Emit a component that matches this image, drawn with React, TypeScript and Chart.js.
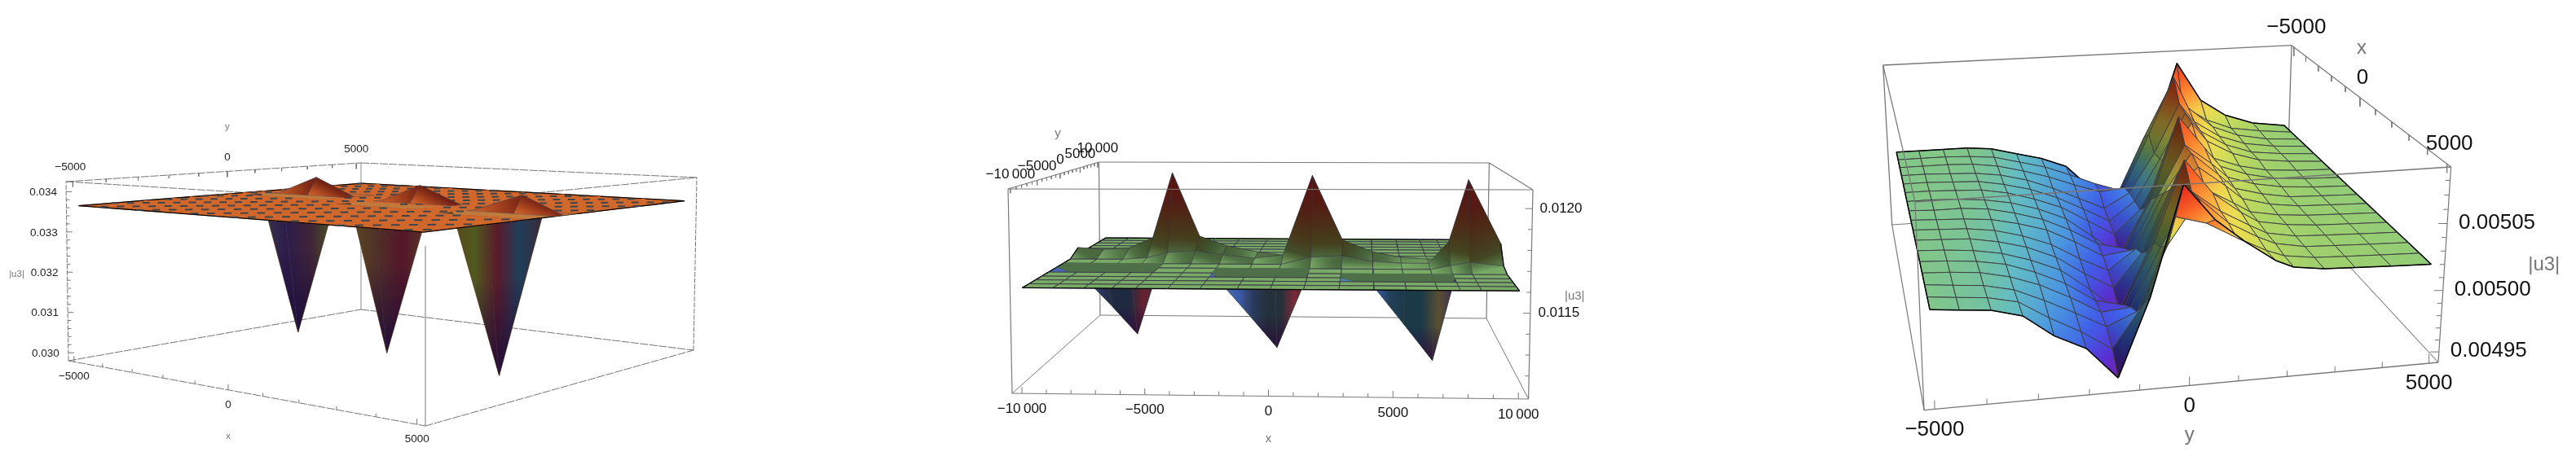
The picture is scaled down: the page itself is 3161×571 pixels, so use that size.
import { useEffect, useRef } from "react";
import { Chart, registerables } from "chart.js";

Chart.register(...registerables);

const WIDTH = 3161;
const HEIGHT = 571;

// ---- left plot: |u3| on a flat sheet with three dips and three bumps
const p1Xs = [-5000, -4350, -3100, -1850, -650, 450, 1650, 2700, 3950, 5000];
const p1Ys = [-5000, -4000, -3000, -2100, -1500, -998, -489, -177, 354, 720, 1040, 1800, 2700, 3800, 5000];
const p1Plane = 0.03365;
const p1Dips = [[2, 8, 0.03], [5, 6, 0.03], [8, 5, 0.02998]];
const p1DipSpans = [[1, 3], [4, 6], [7, 9]];
const p1Bumps = [[2, 10, 0.03412], [5, 9, 0.03408], [8, 7, 0.03406]];
const p1XTicks = [-5000, -4000, -3000, -2000, -1000, 0, 1000, 2000, 3000, 4000, 5000];
const p1ZTicks = [0.03, 0.0302, 0.0304, 0.0306, 0.0308, 0.031, 0.0312, 0.0314, 0.0316, 0.0318, 0.032, 0.0322, 0.0324, 0.0326, 0.0328, 0.033, 0.0332, 0.0334, 0.0336, 0.0338, 0.034];
const p1XLabels = ["\u22125000", "0", "5000"];
const p1ZLabels = ["0.030", "0.031", "0.032", "0.033", "0.034"];

// ---- middle plot
const p2Xs = [-10000, -8750, -7500, -6360, -5400, -4100, -2800, -1300, 30, 1380, 2800, 4200, 5500, 6750, 7650, 8500, 10000];
const p2Ys = [-10000, -8750, -7500, -6250, -4850, -3120, -1520, 145, 2080, 3400, 4800, 6100, 7400, 8700, 10000];
const p2Plane = 0.0116;
const p2Dips = [[3, 5, 0.01124], [8, 4, 0.01121], [13, 3, 0.01118]];
const p2DipSpans = [[0, 4], [6, 9], [10, 14]];
const p2DipFlanks = [
  [1, 5, 0.011546], [2, 5, 0.01139], [7, 4, 0.011395],
  [12, 3, 0.011367], [11, 3, 0.01156],
];
const p2Raised = [
  [0, 8, 0.01164], [1, 8, 0.01163], [2, 8, 0.01164], [3, 8, 0.0117], [4, 8, 0.01208],
  [5, 8, 0.01171], [6, 8, 0.011655], [7, 8, 0.01162], [4, 7, 0.01164], [4, 9, 0.0117],
  [3, 7, 0.01161], [5, 7, 0.01165], [6, 7, 0.01163], [7, 7, 0.01161], [8, 7, 0.01163], [9, 7, 0.01208], [10, 7, 0.011715],
  [11, 7, 0.01165], [12, 7, 0.01162], [13, 7, 0.01161], [14, 7, 0.01161], [9, 6, 0.01164],
  [10, 6, 0.01165], [11, 6, 0.01162], [12, 6, 0.01161], [9, 8, 0.0117], [13, 6, 0.01161], [14, 6, 0.01173], [15, 6, 0.01207], [16, 6, 0.01172],
  [14, 5, 0.01162], [15, 5, 0.01164], [16, 5, 0.01162], [15, 7, 0.0117],
];
const p2XTicks = [-10000, -9000, -8000, -7000, -6000, -5000, -4000, -3000, -2000, -1000, 0, 1000, 2000, 3000, 4000, 5000, 6000, 7000, 8000, 9000, 10000];
const p2ZTicks = [0.0112, 0.0113, 0.0114, 0.0115, 0.0116, 0.0117, 0.0118, 0.0119, 0.012];
const p2XLabels = ["\u221210\u2009000", "\u22125000", "0", "5000", "10\u2009000"];
const p2ZLabels = ["0.0115", "0.0120"];

// ---- right plot, heights in units of 1e-6, one row per x from back to front
const p3Ys = [-5000, -4450, -3850, -3250, -2650, -2020, -1390, -760, -130, 500, 1120, 1740, 2120, 2750, 3400, 4150, 5000];
const p3Xs = [-5000, -4375, -3750, -3125, -2500, -1875, -1250, -625, 0, 625, 1250, 1875, 2500, 3125, 3750, 4375, 5000];
const p3Heights = [
  [5014, 5014, 5014, 5014, 5012, 5006, 5000, 4991, 4968, 4948, 4985, 5040, 5080, 5046, 5031, 5022, 5018],
  [5014, 5014, 5014, 5013, 5011, 5005, 4999, 4990, 4980, 4972, 5020, 5062, 5048, 5034, 5025, 5021, 5018],
  [5014, 5014, 5014, 5013, 5010, 5004, 4997, 4988, 4980, 4982, 5030, 5079, 5052, 5034, 5025, 5020, 5018],
  [5014, 5014, 5013, 5012, 5009, 5003, 4994, 4983, 4972, 4985, 5020, 5062, 5046, 5032, 5024, 5020, 5018],
  [5014, 5014, 5013, 5012, 5008, 5002, 4993, 4981, 4968, 4985, 5022, 5060, 5044, 5031, 5023, 5020, 5018],
  [5014, 5014, 5013, 5012, 5008, 5001, 4992, 4978, 4964, 4985, 5025, 5058, 5042, 5030, 5023, 5020, 5018],
  [5014, 5014, 5013, 5011, 5007, 5000, 4990, 4972, 4953, 4995, 5056, 5048, 5034, 5026, 5021, 5019, 5018],
  [5014, 5013, 5013, 5011, 5006, 4999, 4988, 4974, 4968, 5010, 5076, 5050, 5034, 5026, 5021, 5019, 5018],
  [5014, 5013, 5012, 5010, 5005, 4998, 4986, 4972, 4975, 5020, 5060, 5044, 5032, 5025, 5021, 5019, 5018],
  [5014, 5013, 5012, 5009, 5003, 4994, 4980, 4968, 4985, 5030, 5060, 5042, 5030, 5024, 5020, 5019, 5018],
  [5014, 5013, 5012, 5008, 5002, 4992, 4976, 4962, 4990, 5040, 5056, 5040, 5029, 5023, 5020, 5019, 5018],
  [5014, 5013, 5011, 5007, 5000, 4990, 4972, 4951, 5000, 5058, 5046, 5034, 5026, 5022, 5020, 5019, 5018],
  [5014, 5013, 5011, 5007, 4999, 4988, 4972, 4966, 5015, 5076, 5050, 5034, 5026, 5022, 5020, 5019, 5018],
  [5014, 5013, 5011, 5006, 4998, 4986, 4972, 4974, 5020, 5060, 5044, 5032, 5025, 5021, 5020, 5019, 5018],
  [5014, 5012, 5010, 5005, 4995, 4983, 4970, 4980, 5030, 5062, 5043, 5031, 5025, 5021, 5020, 5019, 5018],
  [5014, 5012, 5010, 5005, 4991, 4978, 4962, 4995, 5058, 5052, 5040, 5029, 5024, 5021, 5020, 5019, 5018],
  [5014, 5012, 5010, 5004, 4987, 4975, 4949, 5010, 5087, 5062, 5045, 5030, 5024, 5021, 5020, 5019, 5018],
];
const p3AxisTicks = [-5000, -4000, -3000, -2000, -1000, 0, 1000, 2000, 3000, 4000, 5000];
const p3ZTicks = [4950, 4960, 4970, 4980, 4990, 5000, 5010, 5020, 5030, 5040, 5050, 5060, 5070, 5080];
const p3AxisLabels = ["\u22125000", "0", "5000"];
const p3ZLabels = ["0.00495", "0.00500", "0.00505"];

// colours by height
const p1Ramp: [number, string][] = [[0.03365, "#d2672c"], [0.0338, "#b84e22"], [0.034, "#842c16"], [0.0342, "#571410"]];
const p2Ramp: [number, string][] = [[0.0116, "#79ab67"], [0.01163, "#4f7044"], [0.01167, "#3f5530"], [0.0117, "#44431f"], [0.0118, "#4a3218"], [0.0119, "#521f14"], [0.01208, "#5e1010"]];
const p3Ramp: [number, string][] = [
  [4945, "#7d1fa0"], [4960, "#5a2ed0"], [4975, "#3f5fe8"], [4990, "#4a96e0"], [5005, "#62bcc4"], [5014, "#82c688"],
  [5020, "#9ccf6e"], [5030, "#c8dc5a"], [5040, "#f0dc50"], [5050, "#fcb040"], [5065, "#fb6b28"], [5085, "#e8281c"],
];
const p1DipColours = [
  ["#3a3a48", "#2c1c4c", "#402438", "#4a5a20"],
  ["#5a4a20", "#503028", "#54162a", "#5a3a28"],
  ["#5a4a1c", "#4f5a1e", "#5a1a28", "#1f3e5a", "#3a2a3a"],
];
const p2DipColours = [
  ["#4a68b8", "#4a68b8", "#3f5cb0", "#2c3560", "#1e2a40", "#1e2a40", "#6a2030", "#3a3048"],
  ["#4a68b0", "#4a68b0", "#3a5aa8", "#2a3a5a", "#24303a", "#24303a", "#7a2a38", "#4a2030"],
  ["#4a88b0", "#4a88b0", "#3a60c0", "#22405a", "#1a3a48", "#1a3a48", "#5a5030", "#3a2a60"],
];

type Pt = { x: number; y: number };
type Box = { a: number[]; b: number[]; z: number[]; corners: number[][][][]; persp: number[] };

// corners are [a side][b side][z side]
const box1: Box = {
  a: [-5200, 5200], b: [-5200, 5200], z: [0.0298, 0.03425], persp: [-0.19, 0.207, 0],
  corners: [[[[84, 443], [81, 223]], [[443, 380], [443, 200]]], [[[522, 523], [522, 250]], [[851, 430], [855, 218]]]],
};
const box2: Box = {
  a: [-10400, 10400], b: [-10400, 10400], z: [0.01109, 0.01209], persp: [-0.0144, 0.342, 0],
  corners: [[[[1242, 483], [1237, 232]], [[1350, 387], [1348.5, 199]]], [[[1875.6, 490], [1881, 233]], [[1824, 391], [1827.4, 200]]]],
};
const box3: Box = {
  a: [-5200, 5200], b: [-5200, 5200], z: [4941, 5089], persp: [0.051, -0.236, -0.1],
  corners: [[[[2321.7, 276], [2310.7, 80]], [[2361, 503.7], [2350, 248]]], [[[2806, 244], [2812, 55.7]], [[2992, 445], [3007.6, 205]]]],
};

function project(box: Box, a: number, b: number, z: number): Pt {
  const u = (a - box.a[0]) / (box.a[1] - box.a[0]);
  const v = (b - box.b[0]) / (box.b[1] - box.b[0]);
  const w = (z - box.z[0]) / (box.z[1] - box.z[0]);
  let sx = 0, sy = 0, sw = 0;
  for (let i = 0; i < 2; i++) for (let j = 0; j < 2; j++) for (let k = 0; k < 2; k++) {
    const h = 1 + box.persp[0] * i + box.persp[1] * j + box.persp[2] * k;
    const t = (i ? u : 1 - u) * (j ? v : 1 - v) * (k ? w : 1 - w) * h;
    sx += t * box.corners[i][j][k][0];
    sy += t * box.corners[i][j][k][1];
    sw += t;
  }
  return { x: sx / sw, y: sy / sw };
}

const hexRgb = (h: string) => [1, 3, 5].map((i) => parseInt(h.slice(i, i + 2), 16));

function rampColour(ramp: [number, string][], z: number, shade = 1) {
  let rgb = hexRgb(ramp[ramp.length - 1][1]);
  if (z <= ramp[0][0]) rgb = hexRgb(ramp[0][1]);
  else for (let i = 1; i < ramp.length; i++) {
    if (z <= ramp[i][0]) {
      const t = (z - ramp[i - 1][0]) / (ramp[i][0] - ramp[i - 1][0]);
      const c0 = hexRgb(ramp[i - 1][1]), c1 = hexRgb(ramp[i][1]);
      rgb = c0.map((c, n) => c + (c1[n] - c) * t);
      break;
    }
  }
  return `rgb(${rgb.map((c) => Math.round(c * shade)).join(",")})`;
}

// scriptable fill, goes through the chart's scales
function gradient(p0: Pt, p1: Pt, colours: string[]) {
  return (c: any) => {
    const { x, y } = c.chart.scales;
    if (!x || !y) return colours[0];
    const from = [x.getPixelForValue(p0.x), y.getPixelForValue(p0.y)];
    const to = [x.getPixelForValue(p1.x), y.getPixelForValue(p1.y)];
    // scales have no size yet on the first pass
    if (![...from, ...to].every(Number.isFinite)) return colours[0];
    const g = c.chart.ctx.createLinearGradient(from[0], from[1], to[0], to[1]);
    colours.forEach((col, i) => g.addColorStop(colours.length > 1 ? i / (colours.length - 1) : 0, col));
    return g;
  };
}

function polygon(points: Pt[], fill: any, border: any, borderWidth = 1) {
  return {
    data: [...points, points[0]], showLine: true, fill: "shape", backgroundColor: fill, borderColor: border,
    borderWidth, pointRadius: 0, tension: 0,
  };
}

function line(points: Pt[], color: string, borderWidth = 1, dash: number[] = []) {
  return { data: points, showLine: true, fill: false, borderColor: color, borderWidth, borderDash: dash, pointRadius: 0, tension: 0 };
}

function zOfGrid(cols: number, rows: number, base: number, nodes: number[][]) {
  const grid = Array.from({ length: rows }, () => new Array(cols).fill(base));
  nodes.forEach(([i, j, z]) => (grid[j][i] = z));
  return grid;
}

type Cell = { i: number; j: number; pts: Pt[]; zs: number[] };

function surfaceCells(box: Box, as: number[], bs: number[], grid: number[][], key: (i: number, j: number) => number) {
  const cells: Cell[] = [];
  for (let j = 0; j < bs.length - 1; j++) for (let i = 0; i < as.length - 1; i++) {
    const idx = [[i, j], [i + 1, j], [i + 1, j + 1], [i, j + 1]];
    cells.push({ i, j, pts: idx.map(([n, m]) => project(box, as[n], bs[m], grid[m][n])), zs: idx.map(([n, m]) => grid[m][n]) });
  }
  return cells.sort((p, q) => key(p.i, p.j) - key(q.i, q.j));
}

// black rim where a cell sits on the edge of the surface
function rim(cell: Cell, nA: number, nB: number, width: number) {
  const out: any[] = [];
  const [p0, p1, p2, p3] = cell.pts;
  if (cell.j === 0) out.push(line([p0, p1], "#000", width));
  if (cell.j === nB - 2) out.push(line([p3, p2], "#000", width));
  if (cell.i === 0) out.push(line([p0, p3], "#000", width));
  if (cell.i === nA - 2) out.push(line([p1, p2], "#000", width));
  return out;
}

function findDip(dips: number[][], spans: number[][], cell: Cell) {
  return dips.findIndex(([, r], n) => (r === cell.j || r === cell.j + 1) && cell.i >= spans[n][0] && cell.i < spans[n][1]);
}

function dipWall(box: Box, as: number[], bs: number[], plane: number, dip: number[], span: number[], colours: string[], cell: Cell, tipShade: string, clear: string, mesh: string, reach: number) {
  const [col, row, z] = dip;
  const left = project(box, as[span[0]], bs[row], plane);
  const right = project(box, as[span[1]], bs[row], plane);
  const tip = project(box, as[col], bs[row], z);
  return [
    polygon(cell.pts, gradient(left, { x: right.x, y: left.y }, colours), "rgba(0,0,0,0)", 0),
    polygon(cell.pts, gradient(tip, { x: tip.x, y: tip.y + (left.y - tip.y) * reach }, [tipShade, clear]), mesh, 0.8),
  ];
}

function boxEdge(box: Box, from: number[], to: number[], color: string, width: number, dash: number[] = []) {
  const at = (c: number[]) => project(box, box.a[c[0]], box.b[c[1]], box.z[c[2]]);
  return line([at(from), at(to)], color, width, dash);
}

function ticks(anchor: (t: number) => Pt, values: number[], major: number[], dir: number[], long: number, short: number, color: string, width: number) {
  return values.map((t) => {
    const p = anchor(t);
    const l = major.some((m) => Math.abs(m - t) < 1e-9) ? long : short;
    return line([p, { x: p.x + dir[0] * l, y: p.y + dir[1] * l }], color, width);
  });
}

type Label = { text: string; x: number; y: number; size: number; color: string };

function buildPanel1(labels: Label[]) {
  const grid = zOfGrid(p1Xs.length, p1Ys.length, p1Plane, [...p1Dips, ...p1Bumps]);
  const cells = surfaceCells(box1, p1Xs, p1Ys, grid, (i, j) => i / p1Xs.length - j / p1Ys.length);
  const flat = (c: Cell) => c.zs.every((z) => z === p1Plane);
  const lower: any[] = [];
  const upper: any[] = [];
  const nonFlat = new Set(cells.filter((c) => !flat(c)).map((c) => `${c.i},${c.j}`));
  cells.forEach((cell) => {
    const max = Math.max(...cell.zs);
    const min = Math.min(...cell.zs);
    const n = findDip(p1Dips, p1DipSpans, cell);
    if (flat(cell)) {
      lower.push(polygon(cell.pts, "#d2672c", "#d2672c", 1));
    } else if (max > p1Plane) {
      const lo = cell.pts[cell.zs.indexOf(min)];
      const hi = cell.pts[cell.zs.indexOf(max)];
      const cols = [0, 1, 2, 3, 4].map((t) => rampColour(p1Ramp, min + ((max - min) * t) / 4));
      upper.push(polygon(cell.pts, gradient(lo, hi, cols), "rgba(70,70,80,0.55)", 0.8));
    } else if (n >= 0 && p1Dips[n][1] === cell.j + 1) {
      lower.push(...dipWall(box1, p1Xs, p1Ys, p1Plane, p1Dips[n], p1DipSpans[n], p1DipColours[n], cell, "rgba(24,10,60,0.85)", "rgba(24,10,60,0)", "rgba(50,50,60,0.5)", 0.6));
    } else {
      lower.push(polygon(cell.pts, "#c07a3c", "#c07a3c", 1));
    }
    lower.push(...rim(cell, p1Xs.length, p1Ys.length, 1.3));
  });

  // the mesh fights with the sheet, which leaves rows of short dark dashes
  const dashes: any[] = [];
  let row = 0;
  for (let c = -0.98; c < 1; c += 0.147, row++) {
    const start = Math.abs(c) + (row % 2 ? 0.0255 : 0);
    for (let s = start; s < 2 - Math.abs(c) - 0.024; s += 0.051) {
      const to = (t: number) => ({ a: -5000 + 10000 * ((t + c) / 2), b: -5000 + 10000 * ((t - c) / 2) });
      const mid = to(s + 0.012);
      const i = p1Xs.findIndex((x, n) => n < p1Xs.length - 1 && mid.a >= x && mid.a <= p1Xs[n + 1]);
      const j = p1Ys.findIndex((y, n) => n < p1Ys.length - 1 && mid.b >= y && mid.b <= p1Ys[n + 1]);
      if (i < 0 || j < 0 || nonFlat.has(`${i},${j}`)) continue;
      const p = to(s), q = to(s + 0.024);
      dashes.push(line([project(box1, p.a, p.b, p1Plane), project(box1, q.a, q.b, p1Plane)], "#3d464c", 2));
    }
  }

  const gray = "#757575";
  const dash = [10, 1.5];
  const back = [
    boxEdge(box1, [0, 0, 1], [0, 1, 1], gray, 1, dash), boxEdge(box1, [0, 1, 1], [1, 1, 1], gray, 1, dash),
    boxEdge(box1, [0, 0, 1], [1, 0, 1], gray, 1, dash), boxEdge(box1, [1, 0, 1], [1, 1, 1], gray, 1, dash),
    boxEdge(box1, [0, 0, 0], [1, 0, 0], gray, 1, dash), boxEdge(box1, [0, 0, 0], [0, 1, 0], gray, 1, dash),
    boxEdge(box1, [0, 1, 0], [1, 1, 0], gray, 1, dash), boxEdge(box1, [1, 0, 0], [1, 1, 0], gray, 1, dash),
    boxEdge(box1, [0, 0, 0], [0, 0, 1], gray, 1, [6, 1.5]), boxEdge(box1, [0, 1, 0], [0, 1, 1], "#888", 1),
    boxEdge(box1, [1, 1, 0], [1, 1, 1], gray, 1, [6, 1.5]),
    ...ticks((t) => project(box1, t, box1.b[0], box1.z[0]), p1XTicks, [-5000, 0, 5000], [0, -1], 7, 4, gray, 1),
    ...ticks((t) => project(box1, box1.a[0], t, box1.z[1]), p1XTicks, [-5000, 0, 5000], [0, 1], 7, 4, gray, 1),
    ...ticks((t) => project(box1, box1.a[0], box1.b[0], t), p1ZTicks, [0.03, 0.031, 0.032, 0.033, 0.034], [1, 0], 7, 4, gray, 1),
  ];
  const front = [line([project(box1, box1.a[1], box1.b[0], box1.z[0]), project(box1, box1.a[1], box1.b[0], 0.0334)], "#777", 1)];

  const txt = "#222";
  [-5000, 0, 5000].forEach((t, n) => {
    const p = project(box1, t, box1.b[0], box1.z[0]);
    labels.push({ text: p1XLabels[n], x: p.x, y: p.y + 18, size: 13.5, color: txt });
    const q = project(box1, box1.a[0], t, box1.z[1]);
    labels.push({ text: p1XLabels[n], x: q.x - (n === 0 ? 3 : 0), y: q.y - 17, size: 13.5, color: txt });
  });
  [0.03, 0.031, 0.032, 0.033, 0.034].forEach((t, n) => {
    const p = project(box1, box1.a[0], box1.b[0], t);
    labels.push({ text: p1ZLabels[n], x: p.x - 28, y: p.y + 1, size: 13.5, color: txt });
  });
  const xp = project(box1, 0, box1.b[0], box1.z[0]);
  labels.push({ text: "x", x: xp.x, y: xp.y + 57, size: 11.5, color: "#777" });
  const yp = project(box1, box1.a[0], 0, box1.z[1]);
  labels.push({ text: "y", x: yp.x, y: yp.y - 55, size: 11.5, color: "#777" });
  const zp = project(box1, box1.a[0], box1.b[0], 0.032);
  labels.push({ text: "|u3|", x: zp.x - 62, y: zp.y + 3, size: 11.5, color: "#777" });

  return [...back, ...lower, ...dashes, ...upper, ...front];
}

function buildPanel2(labels: Label[]) {
  const grid = zOfGrid(p2Xs.length, p2Ys.length, p2Plane, [...p2Dips, ...p2DipFlanks, ...p2Raised]);
  const mid = (p2Xs.length - 1) / 2;
  const cells = surfaceCells(box2, p2Xs, p2Ys, grid, (i, j) => -j * 1000 - Math.abs(i - mid));
  const out: any[] = [];
  cells.forEach((cell) => {
    const max = Math.max(...cell.zs);
    const min = Math.min(...cell.zs);
    const n = findDip(p2Dips, p2DipSpans, cell);
    if (cell.zs.every((z) => z === p2Plane)) {
      out.push(polygon(cell.pts, "#79ab67", "#3c3c48", 1));
    } else if (min >= p2Plane) {
      const lo = cell.pts[cell.zs.indexOf(min)];
      const hi = cell.pts[cell.zs.indexOf(max)];
      const cols = [0, 1, 2, 3, 4, 5, 6].map((t) => rampColour(p2Ramp, min + ((max - min) * t) / 6));
      out.push(polygon(cell.pts, gradient(lo, hi, cols), "rgba(50,50,60,0.6)", 0.9));
    } else if (n >= 0 && p2Dips[n][1] === cell.j + 1) {
      out.push(...dipWall(box2, p2Xs, p2Ys, p2Plane, p2Dips[n], p2DipSpans[n], p2DipColours[n], cell, "rgba(45,10,60,0.85)", "rgba(45,10,60,0)", "rgba(60,60,70,0.5)", 0.42));
    } else {
      out.push(polygon(cell.pts, "#4e7048", "#4e7048", 1));
    }
    out.push(...rim(cell, p2Xs.length, p2Ys.length, 1.3));
  });

  const gray = "#7a7a7a";
  const back = [
    boxEdge(box2, [0, 1, 1], [1, 1, 1], gray, 1.2), boxEdge(box2, [0, 0, 1], [0, 1, 1], gray, 1.2),
    boxEdge(box2, [1, 0, 1], [1, 1, 1], gray, 1.2), boxEdge(box2, [0, 1, 0], [1, 1, 0], gray, 1.2),
    boxEdge(box2, [0, 0, 0], [0, 1, 0], gray, 1), boxEdge(box2, [1, 0, 0], [1, 1, 0], gray, 1),
    boxEdge(box2, [0, 1, 0], [0, 1, 1], gray, 1.2), boxEdge(box2, [1, 1, 0], [1, 1, 1], gray, 1.2),
  ];
  const front = [
    boxEdge(box2, [0, 0, 1], [1, 0, 1], gray, 1.2), boxEdge(box2, [0, 0, 0], [1, 0, 0], gray, 1.2),
    boxEdge(box2, [0, 0, 0], [0, 0, 1], gray, 1.2), boxEdge(box2, [1, 0, 0], [1, 0, 1], gray, 1.2),
    ...ticks((t) => project(box2, t, box2.b[0], box2.z[0]), p2XTicks, [-10000, -5000, 0, 5000, 10000], [0, -1], 8, 5, gray, 1),
    ...ticks((t) => project(box2, box2.a[0], t, box2.z[1]), p2XTicks, [-10000, -5000, 0, 5000, 10000], [0, 1], 6, 3.5, gray, 1),
    ...ticks((t) => project(box2, box2.a[1], box2.b[0], t), p2ZTicks, [0.0115, 0.012], [-1, 0], 9, 5, gray, 1),
  ];

  const txt = "#111";
  [-10000, -5000, 0, 5000, 10000].forEach((t, n) => {
    const p = project(box2, t, box2.b[0], box2.z[0]);
    labels.push({ text: p2XLabels[n], x: p.x, y: p.y + 19, size: 17, color: txt });
    const q = project(box2, box2.a[0], t, box2.z[1]);
    labels.push({ text: p2XLabels[n], x: q.x, y: q.y - 17, size: 17, color: txt });
  });
  [0.0115, 0.012].forEach((t, n) => {
    const p = project(box2, box2.a[1], box2.b[0], t);
    labels.push({ text: p2ZLabels[n], x: p.x + 35, y: p.y, size: 17, color: txt });
  });
  const xp = project(box2, 0, box2.b[0], box2.z[0]);
  labels.push({ text: "x", x: xp.x, y: xp.y + 52, size: 15, color: "#777" });
  const yp = project(box2, box2.a[0], 0, box2.z[1]);
  labels.push({ text: "y", x: yp.x - 3, y: yp.y - 49, size: 15, color: "#777" });
  const zp = project(box2, box2.a[1], box2.b[0], 0.01158);
  labels.push({ text: "|u3|", x: zp.x + 54, y: zp.y, size: 15, color: "#777" });

  return [...back, ...out, ...front];
}

function buildPanel3(labels: Label[]) {
  const cells = surfaceCells(box3, p3Ys, p3Xs, p3Heights, (i, j) => j * 1000 - i);
  const out: any[] = [];
  cells.forEach((cell) => {
    const max = Math.max(...cell.zs);
    const min = Math.min(...cell.zs);
    const lo = cell.pts[cell.zs.indexOf(min)];
    const hi = cell.pts[cell.zs.indexOf(max)];
    // the steep face looking at the left is in shadow
    const rise = (cell.zs[1] + cell.zs[2] - cell.zs[0] - cell.zs[3]) / 2;
    const shade = Math.max(0.42, Math.min(1, 1 - (rise - 12) / 70));
    const cols = [0, 1, 2, 3, 4, 5].map((t) => rampColour(p3Ramp, min + ((max - min) * t) / 5, shade));
    const fill = max - min < 1 ? cols[0] : gradient(lo, hi, cols);
    out.push(polygon(cell.pts, fill, "#3e3e42", 1));
    out.push(...rim(cell, p3Ys.length, p3Xs.length, 1.5));
  });

  const gray = "#777";
  const back = [
    boxEdge(box3, [0, 0, 1], [1, 0, 1], gray, 1.3), boxEdge(box3, [0, 0, 0], [0, 0, 1], gray, 1.3),
    boxEdge(box3, [1, 0, 0], [1, 0, 1], gray, 1.3), boxEdge(box3, [0, 0, 0], [1, 0, 0], gray, 1.2),
    boxEdge(box3, [1, 0, 0], [1, 1, 0], gray, 1.1), boxEdge(box3, [0, 0, 0], [0, 1, 0], gray, 1.2),
  ];
  const front = [
    boxEdge(box3, [0, 1, 0], [1, 1, 0], gray, 1.3), boxEdge(box3, [0, 1, 1], [1, 1, 1], gray, 1.3),
    boxEdge(box3, [0, 0, 1], [0, 1, 1], gray, 1.2), boxEdge(box3, [1, 0, 1], [1, 1, 1], gray, 1.2),
    boxEdge(box3, [0, 1, 0], [0, 1, 1], gray, 1.2), boxEdge(box3, [1, 1, 0], [1, 1, 1], gray, 1.2),
    ...ticks((t) => project(box3, t, box3.b[1], box3.z[0]), p3AxisTicks, [-5000, 0, 5000], [0, -1], 11, 7, gray, 1),
    ...ticks((t) => project(box3, box3.a[1], t, box3.z[1]), p3AxisTicks, [-5000, 0, 5000], [0, 1], 11, 7, gray, 1),
    ...ticks((t) => project(box3, box3.a[1], box3.b[1], t), p3ZTicks, [4950, 5000, 5050], [-1, 0], 11, 6, gray, 1),
  ];

  const txt = "#111";
  [-5000, 0, 5000].forEach((t, n) => {
    const p = project(box3, t, box3.b[1], box3.z[0]);
    labels.push({ text: p3AxisLabels[n], x: p.x, y: p.y + 25, size: 26, color: txt });
    const q = project(box3, box3.a[1], t, box3.z[1]);
    labels.push({ text: p3AxisLabels[n], x: q.x + 3, y: q.y - 24, size: 26, color: txt });
  });
  [4950, 5000, 5050].forEach((t, n) => {
    const p = project(box3, box3.a[1], box3.b[1], t);
    labels.push({ text: p3ZLabels[n], x: p.x + 61, y: p.y - 1, size: 26, color: txt });
  });
  const yp = project(box3, 0, box3.b[1], box3.z[0]);
  labels.push({ text: "y", x: yp.x, y: yp.y + 61, size: 24, color: "#777" });
  const xp = project(box3, box3.a[1], 0, box3.z[1]);
  labels.push({ text: "x", x: xp.x + 2, y: xp.y - 60, size: 24, color: "#777" });
  const zp = project(box3, box3.a[1], box3.b[1], 5000);
  labels.push({ text: "|u3|", x: zp.x + 124, y: zp.y - 31, size: 24, color: "#777" });

  return [...back, ...out, ...front];
}

export default function App() {
  const canvasRef = useRef<HTMLCanvasElement>(null);

  useEffect(() => {
    if (!canvasRef.current) return;
    const labels: Label[] = [];
    const drawn = [...buildPanel1(labels), ...buildPanel2(labels), ...buildPanel3(labels)];

    const textPlugin = {
      id: "plotText",
      afterDraw(chart: any) {
        const { ctx, scales } = chart;
        ctx.save();
        ctx.textAlign = "center";
        ctx.textBaseline = "middle";
        labels.forEach((l) => {
          ctx.font = `${l.size}px "Liberation Sans"`;
          ctx.fillStyle = l.color;
          ctx.fillText(l.text, scales.x.getPixelForValue(l.x), scales.y.getPixelForValue(l.y));
        });
        ctx.restore();
      },
    };

    // chart.js paints the first dataset last
    const chart = new Chart(canvasRef.current, {
      type: "scatter",
      data: { datasets: drawn.reverse() as any },
      plugins: [textPlugin],
      options: {
        animation: false,
        responsive: false,
        devicePixelRatio: 1,
        events: [],
        layout: { padding: 0 },
        plugins: { legend: { display: false }, tooltip: { enabled: false } },
        scales: {
          x: { type: "linear", display: false, min: 0, max: WIDTH },
          y: { type: "linear", display: false, min: 0, max: HEIGHT, reverse: true },
        },
      },
    });

    return () => chart.destroy();
  }, []);

  return <canvas ref={canvasRef} width={WIDTH} height={HEIGHT} style={{ position: "fixed", left: 0, top: 0, display: "block" }} />;
}
